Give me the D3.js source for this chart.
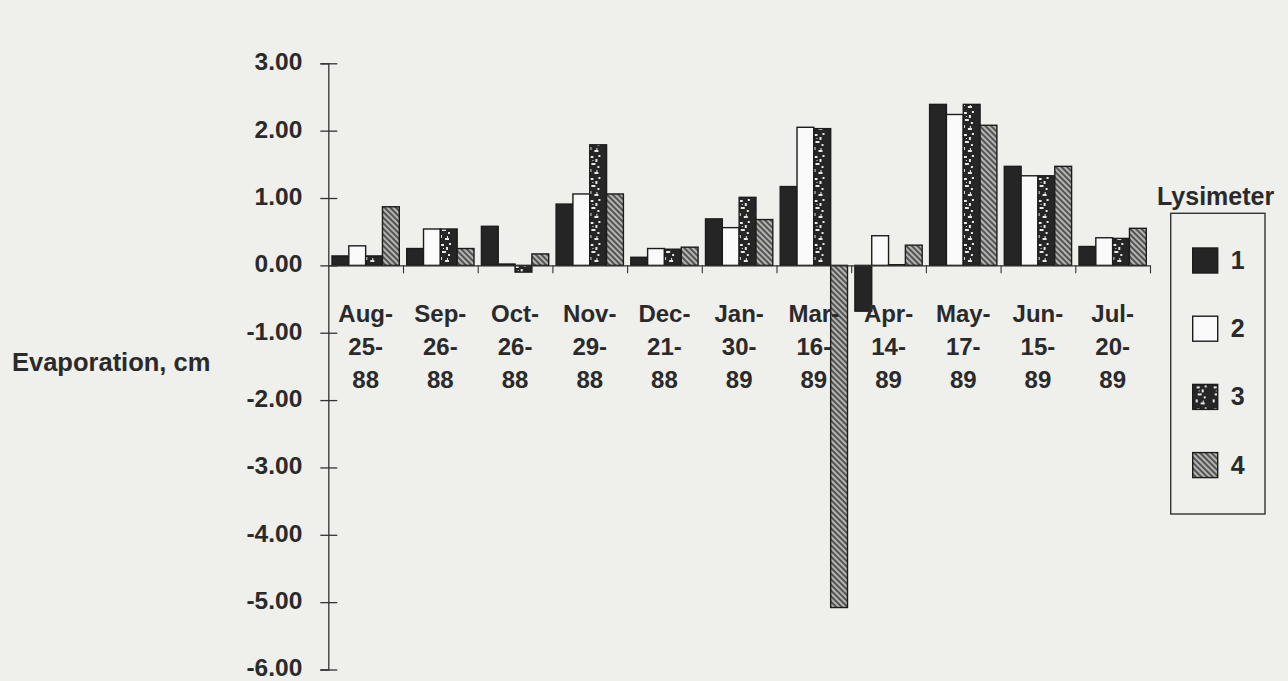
<!DOCTYPE html>
<html>
<head>
<meta charset="utf-8">
<script src="https://cdn.jsdelivr.net/npm/d3@7"></script>
<style>
  body { margin: 0; background: #efefec; }
  svg { display: block; }
  text { font-family: "Liberation Sans", Arial, Helvetica, sans-serif; font-weight: bold; fill: #2a2a2a; }
</style>
</head>
<body>
<svg width="1288" height="681"></svg>
<script>
// category labels (three lines each)
const monthLabels = ["Aug-", "Sep-", "Oct-", "Nov-", "Dec-", "Jan-", "Mar-", "Apr-", "May-", "Jun-", "Jul-"];
const dayLabels = ["25-", "26-", "26-", "29-", "21-", "30-", "16-", "14-", "17-", "15-", "20-"];
const yearLabels = ["88", "88", "88", "88", "88", "89", "89", "89", "89", "89", "89"];

// evaporation, cm per lysimeter
const lys1 = [0.14, 0.25, 0.58, 0.91, 0.12, 0.69, 1.17, -0.68, 2.39, 1.47, 0.28];
const lys2 = [0.29, 0.54, 0.02, 1.06, 0.25, 0.56, 2.05, 0.44, 2.24, 1.33, 0.41];
const lys3 = [0.14, 0.54, -0.10, 1.79, 0.24, 1.01, 2.03, 0.01, 2.39, 1.33, 0.40];
const lys4 = [0.87, 0.25, 0.17, 1.06, 0.27, 0.68, -5.08, 0.30, 2.08, 1.47, 0.55];

const seriesNames = ["1", "2", "3", "4"];
const yTicks = [3, 2, 1, 0, -1, -2, -3, -4, -5, -6];

const series = [lys1, lys2, lys3, lys4];
const fills = ["#252525", "#fafafa", "url(#stipple)", "url(#hatch)"];

const svg = d3.select("svg");

const margin = { left: 328.3, right: 1150, top: 63.3, bottom: 669.5 };

const xScale = d3.scaleBand()
  .domain(d3.range(monthLabels.length))
  .range([margin.left, margin.right])
  .padding(0);

const subPad = 3.7;
const xSub = d3.scaleBand()
  .domain(d3.range(series.length))
  .range([subPad, xScale.bandwidth() - subPad])
  .padding(0);

const yScale = d3.scaleLinear().domain([-6, 3]).range([margin.bottom, margin.top]);

// patterns
const defs = svg.append("defs");

const hatch = defs.append("pattern")
  .attr("id", "hatch")
  .attr("patternUnits", "userSpaceOnUse")
  .attr("width", 4)
  .attr("height", 4)
  .attr("patternTransform", "rotate(-45)");
hatch.append("rect").attr("width", 4).attr("height", 4).attr("fill", "#b4b4b2");
hatch.append("line")
  .attr("x1", 1).attr("y1", 0).attr("x2", 1).attr("y2", 4)
  .attr("stroke", "#3a3a3a").attr("stroke-width", 1.6);

const stipple = defs.append("pattern")
  .attr("id", "stipple")
  .attr("patternUnits", "userSpaceOnUse")
  .attr("width", 17)
  .attr("height", 22);
stipple.append("rect").attr("width", 17).attr("height", 22).attr("fill", "#262626");
[[4, 2, 3, 2], [9, 5, 2, 3], [5, 9, 4, 2], [11, 12, 2, 2], [3, 15, 2, 3], [8, 18, 4, 2], [12, 1, 2, 2], [6, 6, 1, 1], [10, 16, 1, 2]]
  .forEach(([x, y, w, h]) => {
    stipple.append("rect")
      .attr("x", x).attr("y", y).attr("width", w).attr("height", h)
      .attr("fill", "#e8e8e6");
  });

// y axis
const yAxis = svg.append("g")
  .attr("transform", `translate(${margin.left},0)`)
  .call(d3.axisLeft(yScale).tickValues(yTicks).tickSize(8).tickFormat((d) => d.toFixed(2)));

yAxis.select(".domain").attr("stroke", "#333").attr("stroke-width", 1.3);
yAxis.selectAll(".tick line").attr("x1", 9).attr("x2", -8).attr("stroke", "#333").attr("stroke-width", 1.3);
yAxis.selectAll(".tick text")
  .attr("x", -26)
  .attr("dy", "0.26em")
  .attr("font-size", 24.5)
  .attr("font-family", null)
  .attr("fill", "#2a2a2a");

// bars
const groups = svg.append("g")
  .selectAll("g")
  .data(monthLabels.map((m, i) => i))
  .enter()
  .append("g")
  .attr("transform", (i) => `translate(${xScale(i)},0)`);

groups.selectAll("rect")
  .data((i) => series.map((s, k) => ({ k: k, v: s[i] })))
  .enter()
  .append("rect")
  .attr("x", (d) => xSub(d.k))
  .attr("width", xSub.bandwidth())
  .attr("y", (d) => yScale(Math.max(0, d.v)))
  .attr("height", (d) => Math.abs(yScale(d.v) - yScale(0)))
  .attr("fill", (d) => fills[d.k])
  .attr("stroke", "#1c1c1c")
  .attr("stroke-width", 1.4);

// x axis at zero with ticks between groups
const xIdx = d3.scaleLinear().domain([0, monthLabels.length]).range([margin.left, margin.right]);
const xAxis = svg.append("g")
  .attr("transform", `translate(0,${yScale(0)})`)
  .call(d3.axisBottom(xIdx).tickValues(d3.range(1, monthLabels.length + 1)).tickSize(8).tickSizeOuter(0).tickFormat(""));
xAxis.select(".domain").attr("stroke", "#333").attr("stroke-width", 1.3);
xAxis.selectAll(".tick line").attr("stroke", "#333").attr("stroke-width", 1.1);

// category labels
const labelRows = [monthLabels, dayLabels, yearLabels];
const labelY = [322, 355, 388];
labelRows.forEach((row, r) => {
  svg.append("g")
    .selectAll("text")
    .data(row)
    .enter()
    .append("text")
    .attr("x", (d, i) => xScale(i) + xScale.bandwidth() / 2)
    .attr("y", labelY[r])
    .attr("text-anchor", "middle")
    .attr("font-size", 24)
    .text((d) => d);
});

// y axis title
svg.append("text")
  .attr("x", 12)
  .attr("y", 371)
  .attr("font-size", 25.5)
  .text("Evaporation, cm");

// legend
svg.append("text")
  .attr("x", 1157)
  .attr("y", 205)
  .attr("font-size", 25)
  .text("Lysimeter");

svg.append("rect")
  .attr("x", 1170.7)
  .attr("y", 213.3)
  .attr("width", 94.3)
  .attr("height", 300.7)
  .attr("fill", "none")
  .attr("stroke", "#333")
  .attr("stroke-width", 1.4);

const legendItems = svg.append("g")
  .selectAll("g")
  .data(seriesNames)
  .enter()
  .append("g")
  .attr("transform", (d, i) => `translate(1192.7,${248 + i * 68.2})`);

legendItems.append("rect")
  .attr("width", 25)
  .attr("height", 25)
  .attr("fill", (d, i) => fills[i])
  .attr("stroke", "#1c1c1c")
  .attr("stroke-width", 1.4);

legendItems.append("text")
  .attr("x", 38)
  .attr("y", 21)
  .attr("font-size", 25)
  .text((d) => d);
</script>
</body>
</html>
